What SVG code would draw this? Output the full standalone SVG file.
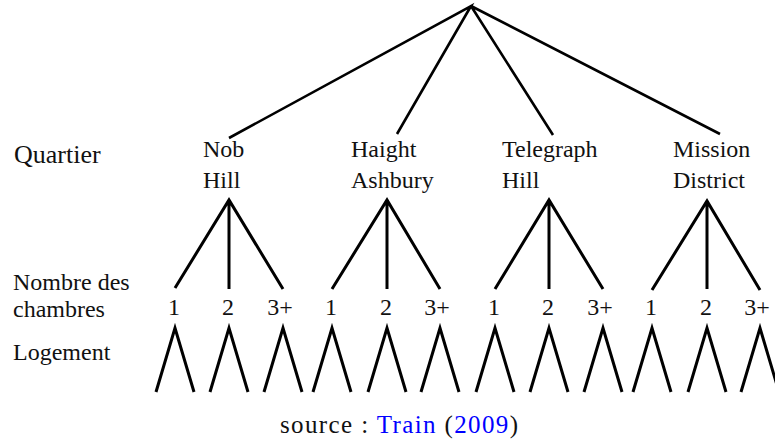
<svg xmlns="http://www.w3.org/2000/svg" width="775" height="444" viewBox="0 0 775 444">
<style>
text{font-family:"Liberation Serif","Times New Roman",serif;font-size:24px;fill:#111}
.big{font-size:26px}
.cap{font-size:25px}
.blue{fill:#0000ff}
.c{fill:none;stroke:#000;stroke-width:3;stroke-linecap:butt;stroke-linejoin:miter}
.top{stroke-width:2.6}
</style>
<rect width="775" height="444" fill="#fff"/>
<g id="connectors">
<path class="c top" d="M229,138 L471,6 L397,134 M471,6 L553,135 M471,6 L720,134"/>
<path class="c" d="M175,288 L229,200 L283,289 M229,200 V289"/>
<path class="c" d="M332,289 L387,200 L440,289 M387,200 V289"/>
<path class="c" d="M495,289 L549,200 L603,289 M549,200 V289"/>
<path class="c" d="M652,290 L707,201 L760,290 M707,201 V289"/>
<path class="c" d="M156,392 L175,328 L194,392 M210,392 L229,328 L248,392 M264,392 L283,328 L302,392 M313,392 L332,328 L351,392 M368,392 L387,328 L406,392 M421,392 L440,328 L459,392 M476,392 L495,328 L514,392 M530,392 L549,328 L568,392 M584,392 L603,328 L622,392 M633,392 L652,328 L671,392 M688,392 L707,328 L726,392 M741,392 L760,328 L779,392"/>
</g>
<g id="labels">
<text class="big" x="14" y="163">Quartier</text>
<text x="13" y="290">Nombre des</text>
<text x="13" y="317">chambres</text>
<text x="13" y="360">Logement</text>
</g>
<g id="node-nob"><text x="203" y="157">Nob</text><text x="203" y="188">Hill</text></g>
<g id="node-haight"><text x="351" y="157">Haight</text><text x="351" y="188">Ashbury</text></g>
<g id="node-telegraph"><text x="502" y="157">Telegraph</text><text x="502" y="188">Hill</text></g>
<g id="node-mission"><text x="673" y="157">Mission</text><text x="673" y="188">District</text></g>
<g id="rooms" text-anchor="middle">
<text x="174" y="315">1</text><text x="228" y="315">2</text><text x="280" y="315">3+</text>
<text x="331" y="315">1</text><text x="386" y="315">2</text><text x="437" y="315">3+</text>
<text x="494" y="315">1</text><text x="548" y="315">2</text><text x="600" y="315">3+</text>
<text x="651" y="315">1</text><text x="706" y="315">2</text><text x="757" y="315">3+</text>
</g>
<text id="caption" class="cap" x="280" y="433" textLength="238" lengthAdjust="spacing">source : <tspan class="blue">Train</tspan> (<tspan class="blue">2009</tspan>)</text>
</svg>
